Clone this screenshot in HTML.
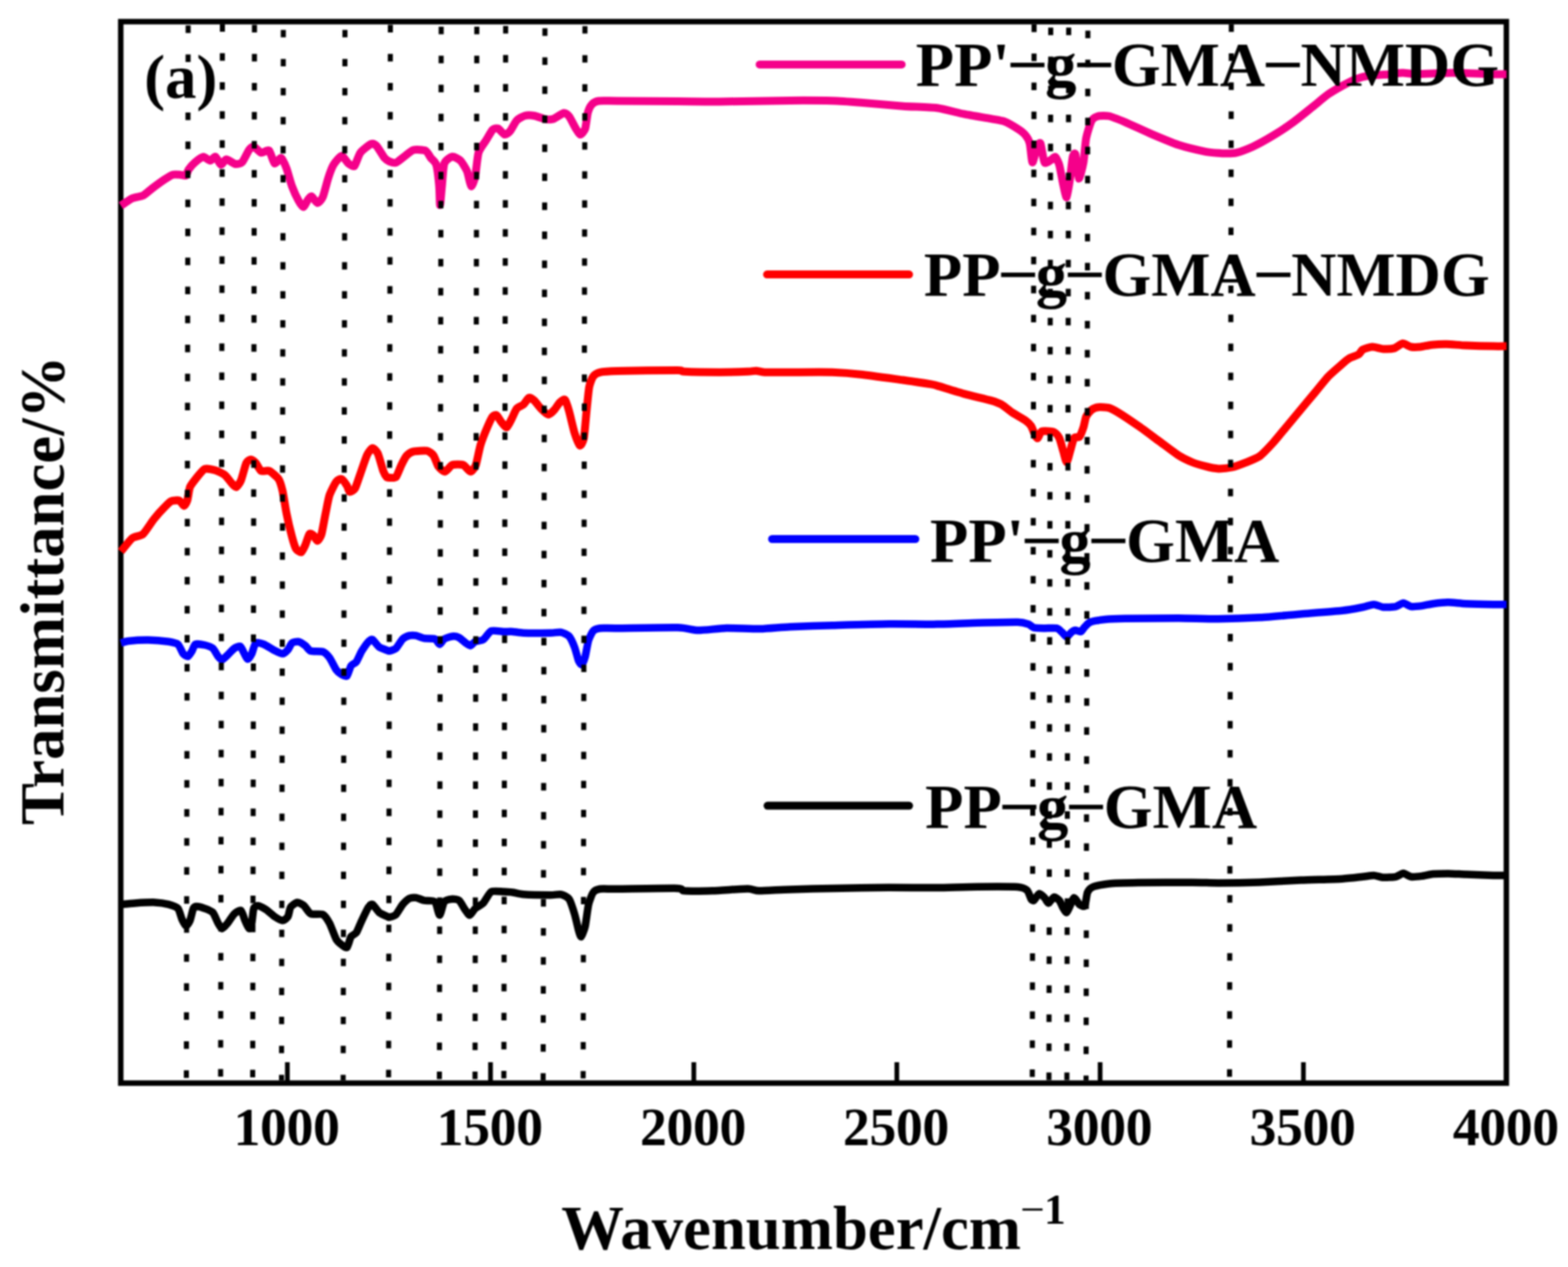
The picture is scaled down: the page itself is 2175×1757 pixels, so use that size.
<!DOCTYPE html>
<html lang="en">
<head>
<meta charset="utf-8">
<title>FTIR spectra</title>
<style>
html,body{margin:0;padding:0;background:#fff}
body{width:2175px;height:1757px;overflow:hidden}
svg{display:block;filter:blur(0.8px)}
text{font-family:"Liberation Serif",serif;font-weight:bold;fill:#000}
</style>
</head>
<body>
<svg width="2175" height="1757" viewBox="0 0 2175 1757">
<rect width="2175" height="1757" fill="#fff"/>
<rect x="167.5" y="30.0" width="1922.0" height="1472.0" fill="none" stroke="#000" stroke-width="7.6"/>
<g fill="none" stroke-linejoin="round" stroke-linecap="butt">
<path stroke="#000000" stroke-width="10.5" d="M167.7 1254.2C169.8 1254.0 182.2 1252.7 187.2 1252.4C192.3 1252.1 210.2 1251.2 215.1 1251.4C220.1 1251.6 230.4 1253.3 233.8 1254.2C237.1 1255.1 244.8 1257.6 246.8 1259.8C248.8 1262.0 251.2 1272.1 252.4 1274.7C253.6 1277.3 256.8 1283.8 258.0 1284.0C259.1 1284.2 262.4 1279.2 263.5 1276.6C264.6 1274.0 267.2 1261.9 268.2 1259.8C269.2 1257.7 271.2 1257.0 272.8 1257.0C274.5 1257.0 281.6 1258.9 284.0 1259.8C286.4 1260.7 293.2 1263.2 295.2 1265.4C297.2 1267.6 301.2 1277.9 302.6 1280.3C304.0 1282.7 306.8 1287.7 308.2 1287.7C309.6 1287.7 313.9 1282.5 315.7 1280.3C317.4 1278.1 323.0 1269.1 325.0 1267.3C327.0 1265.4 332.7 1261.6 334.3 1262.6C335.9 1263.6 338.7 1273.9 339.9 1276.6C341.0 1279.3 344.4 1287.3 345.4 1287.7C346.4 1288.1 348.5 1283.3 349.2 1280.3C349.9 1277.3 351.0 1262.4 352.0 1259.8C352.9 1257.2 356.6 1255.9 358.5 1256.1C360.4 1256.3 367.3 1260.1 369.6 1261.7C372.0 1263.3 378.4 1269.4 380.8 1271.0C383.2 1272.6 390.0 1276.6 392.0 1276.6C394.0 1276.6 398.2 1273.0 399.4 1271.0C400.6 1269.0 401.8 1260.0 403.1 1258.0C404.5 1255.9 410.5 1251.6 412.4 1251.4C414.4 1251.2 419.8 1254.4 421.8 1256.1C423.7 1257.8 428.3 1266.0 431.1 1267.3C433.8 1268.6 445.0 1266.8 447.8 1268.2C450.6 1269.6 455.1 1276.6 457.1 1280.3C459.1 1284.0 464.6 1299.5 466.4 1302.6C468.2 1305.8 472.3 1308.9 473.9 1310.1C475.5 1311.3 479.9 1315.0 481.3 1313.8C482.7 1312.6 485.5 1301.1 486.9 1298.9C488.3 1296.7 492.8 1295.7 494.3 1293.3C495.9 1290.9 500.0 1280.3 501.8 1276.6C503.6 1272.8 509.5 1260.3 511.1 1258.0C512.7 1255.6 515.1 1253.4 516.7 1254.2C518.3 1255.0 523.8 1263.6 526.0 1265.4C528.2 1267.2 535.7 1270.3 537.2 1271.0C538.7 1271.7 538.7 1272.2 540.0 1271.9C541.3 1271.6 547.3 1270.1 549.3 1268.2C551.3 1266.3 556.6 1256.6 558.6 1254.2C560.6 1251.9 565.9 1246.9 567.9 1245.9C569.9 1244.9 575.0 1244.6 577.2 1244.9C579.4 1245.2 585.6 1248.1 588.4 1248.7C591.2 1249.2 601.0 1248.3 603.3 1250.5C605.6 1252.7 608.4 1269.1 609.8 1269.1C611.2 1269.1 614.4 1252.9 616.3 1250.5C618.2 1248.1 625.3 1247.0 627.5 1246.8C629.7 1246.6 634.9 1247.1 636.8 1248.7C638.7 1250.2 643.6 1259.5 645.2 1261.7C646.8 1263.9 650.2 1269.3 651.7 1269.1C653.2 1268.9 657.1 1261.6 659.1 1259.8C661.1 1258.0 667.9 1254.9 670.3 1252.4C672.7 1249.9 678.5 1238.2 681.5 1236.6C684.4 1234.9 695.0 1236.5 698.2 1236.6C701.4 1236.7 708.3 1237.1 711.2 1237.5C714.2 1237.9 720.6 1239.9 726.1 1240.3C731.7 1240.7 757.8 1241.2 763.4 1241.2C768.9 1241.2 775.5 1239.7 778.3 1240.3C781.0 1240.9 787.4 1243.9 789.4 1246.8C791.4 1249.7 795.5 1262.7 796.9 1267.3C798.3 1271.8 801.5 1286.2 802.4 1289.6C803.4 1293.0 805.2 1299.5 806.2 1298.9C807.2 1298.3 810.7 1288.8 811.8 1284.0C812.8 1279.3 815.2 1259.2 816.4 1254.2C817.6 1249.3 821.2 1239.8 822.9 1237.5C824.6 1235.2 828.7 1233.3 832.2 1232.8C835.8 1232.3 844.9 1232.9 856.4 1232.8C867.9 1232.7 930.1 1231.6 940.0 1231.9C949.9 1232.2 943.8 1235.0 949.0 1235.3C954.1 1235.7 978.8 1235.6 988.2 1235.3C997.6 1235.0 1030.2 1232.4 1037.1 1232.4C1044.0 1232.4 1046.5 1235.2 1052.8 1235.3C1059.1 1235.4 1085.0 1233.7 1095.9 1233.4C1106.8 1233.0 1140.0 1232.3 1154.7 1232.0C1169.3 1231.7 1217.5 1230.9 1233.0 1230.8C1248.5 1230.7 1286.9 1231.1 1300.0 1231.0C1313.1 1230.8 1343.9 1229.8 1355.8 1229.7C1367.8 1229.6 1404.3 1229.5 1411.7 1230.0C1419.0 1230.6 1422.7 1232.9 1424.7 1234.7C1426.7 1236.5 1429.3 1245.3 1430.3 1246.8C1431.3 1248.3 1432.8 1249.4 1434.0 1248.7C1435.2 1247.9 1439.9 1239.7 1441.5 1239.3C1443.0 1238.9 1447.5 1243.5 1448.9 1244.9C1450.3 1246.3 1453.1 1252.5 1454.5 1252.4C1455.9 1252.3 1460.3 1244.4 1461.9 1244.0C1463.5 1243.6 1468.0 1247.0 1469.4 1248.7C1470.8 1250.3 1473.9 1258.0 1475.0 1259.8C1476.1 1261.6 1478.6 1265.8 1479.6 1265.4C1480.6 1265.0 1483.2 1258.3 1484.3 1256.1C1485.4 1253.9 1488.5 1245.1 1489.9 1244.9C1491.2 1244.7 1495.7 1253.0 1497.3 1254.2C1498.9 1255.4 1503.6 1257.9 1504.7 1256.1C1505.9 1254.3 1507.3 1240.3 1508.5 1237.5C1509.7 1234.7 1512.7 1231.3 1515.9 1230.0C1519.1 1228.7 1531.5 1226.0 1538.3 1225.4C1545.0 1224.7 1566.9 1224.3 1579.2 1224.1C1591.5 1223.9 1641.8 1223.7 1653.7 1223.7C1665.5 1223.7 1680.0 1224.4 1690.0 1224.4C1700.0 1224.4 1735.0 1223.9 1747.2 1223.5C1759.4 1223.0 1792.3 1221.1 1804.5 1220.6C1816.7 1220.1 1852.6 1219.2 1861.7 1218.7C1870.9 1218.2 1885.6 1216.3 1890.3 1215.8C1895.0 1215.3 1902.5 1213.8 1905.6 1213.9C1908.6 1214.0 1915.7 1216.6 1918.9 1216.8C1922.2 1217.0 1933.2 1216.4 1936.1 1215.8C1939.1 1215.2 1944.4 1211.1 1946.6 1211.1C1948.8 1211.1 1954.4 1215.4 1957.1 1215.8C1959.8 1216.2 1969.1 1215.3 1972.4 1214.9C1975.6 1214.5 1983.8 1212.4 1987.6 1212.0C1991.5 1211.6 2003.7 1211.4 2008.6 1211.4C2013.5 1211.5 2026.7 1212.3 2033.4 1212.6C2040.1 1212.8 2065.6 1213.8 2071.6 1213.9C2077.6 1214.1 2087.8 1213.9 2089.7 1213.9"/>
<path stroke="#0000ff" stroke-width="10.5" d="M167.7 891.7C168.8 891.4 173.8 889.3 177.9 888.9C182.0 888.5 199.9 887.5 205.8 887.6C211.8 887.7 229.4 889.2 233.8 889.8C238.1 890.5 244.6 891.8 246.8 893.5C249.0 895.3 252.7 904.8 254.2 906.6C255.7 908.4 259.5 910.7 260.7 910.3C262.0 909.9 265.2 904.6 266.3 902.8C267.4 901.1 269.1 894.4 271.0 893.5C272.9 892.6 281.4 893.9 284.0 894.5C286.6 895.1 293.2 897.4 295.2 899.1C297.2 900.8 301.2 908.6 302.6 910.3C304.0 912.0 306.8 915.1 308.2 914.9C309.6 914.7 313.9 910.1 315.7 908.4C317.4 906.7 323.1 900.4 325.0 899.1C326.9 897.8 332.0 895.7 333.3 896.3C334.7 896.9 336.9 902.8 338.0 904.7C339.1 906.6 342.4 913.8 343.6 914.0C344.8 914.2 348.0 909.0 349.2 906.6C350.4 904.2 353.0 893.1 354.7 891.7C356.5 890.3 363.3 892.5 365.9 893.5C368.5 894.5 376.2 899.6 378.9 901.0C381.7 902.4 389.8 906.6 392.0 906.6C394.2 906.6 398.0 902.6 399.4 901.0C400.8 899.4 403.4 892.9 405.0 891.7C406.6 890.5 412.3 889.4 414.3 889.8C416.3 890.2 421.8 894.0 423.6 895.4C425.4 896.8 428.5 902.0 431.1 902.8C433.6 903.7 445.0 902.8 447.8 903.8C450.6 904.8 455.1 909.5 457.1 912.2C459.1 914.8 464.6 926.4 466.4 928.9C468.2 931.4 472.3 934.5 473.9 935.4C475.5 936.3 479.9 938.6 481.3 937.3C482.7 936.0 485.5 925.4 486.9 923.3C488.3 921.2 492.8 919.9 494.3 917.7C495.9 915.6 500.0 905.8 501.8 902.8C503.6 899.9 509.5 891.5 511.1 889.8C512.7 888.1 515.1 886.2 516.7 887.0C518.3 887.8 523.8 895.7 526.0 897.3C528.2 898.9 535.7 901.3 537.2 901.9C538.7 902.5 538.7 903.1 540.0 902.8C541.3 902.6 547.3 900.9 549.3 899.1C551.3 897.3 556.6 888.0 558.6 886.1C560.6 884.2 565.9 881.9 567.9 881.4C569.9 880.9 575.0 881.0 577.2 881.4C579.4 881.8 585.6 884.7 588.4 885.2C591.2 885.7 601.0 885.2 603.3 886.1C605.6 887.0 608.4 893.5 609.8 893.5C611.2 893.5 614.4 887.3 616.3 886.1C618.2 884.9 625.3 882.6 627.5 882.4C629.7 882.2 634.8 883.2 636.8 884.2C638.8 885.2 644.4 890.5 646.1 891.7C647.8 892.9 651.2 895.6 652.6 895.4C654.0 895.2 657.2 890.7 659.1 889.8C661.0 888.9 667.9 888.6 670.3 887.0C672.7 885.4 678.5 876.1 681.5 874.9C684.4 873.7 695.0 875.8 698.2 875.9C701.4 876.0 708.3 875.7 711.2 875.9C714.2 876.1 720.6 877.5 726.1 877.7C731.7 877.9 757.8 877.8 763.4 877.7C768.9 877.6 775.5 876.3 778.3 876.8C781.0 877.3 787.4 880.2 789.4 882.4C791.4 884.6 795.5 893.7 796.9 897.3C798.3 900.8 801.4 913.3 802.4 915.9C803.5 918.5 806.1 922.1 807.1 921.5C808.1 920.9 810.8 913.9 811.8 910.3C812.7 906.7 815.2 891.7 816.4 888.0C817.6 884.2 821.2 876.7 822.9 874.9C824.6 873.1 828.7 871.6 832.2 871.2C835.8 870.8 844.9 871.3 856.4 871.2C867.9 871.1 928.0 870.0 940.0 870.3C952.0 870.6 961.3 874.0 968.6 874.1C975.8 874.2 998.5 871.3 1007.7 871.1C1016.9 870.9 1045.4 872.3 1054.8 872.1C1064.2 871.9 1085.2 869.7 1095.9 869.2C1106.6 868.7 1140.0 867.6 1154.7 867.2C1169.3 866.8 1217.5 865.4 1233.0 865.3C1248.5 865.1 1286.9 865.8 1300.0 865.6C1313.1 865.5 1343.9 864.1 1355.8 863.8C1367.8 863.5 1404.1 862.6 1411.7 862.8C1419.2 863.0 1424.2 864.8 1426.6 865.6C1429.0 866.4 1431.6 869.7 1434.0 870.3C1436.4 870.9 1445.5 871.1 1448.9 871.2C1452.3 871.3 1463.1 870.6 1465.7 871.2C1468.2 871.8 1471.6 875.5 1473.1 876.8C1474.6 878.1 1478.2 883.3 1479.6 883.3C1481.0 883.3 1484.8 877.8 1486.1 876.8C1487.4 875.8 1490.3 874.1 1491.7 874.0C1493.1 873.9 1497.8 876.4 1499.2 875.9C1500.6 875.4 1503.4 870.7 1504.7 869.3C1506.1 868.0 1509.2 863.9 1512.2 862.8C1515.2 861.7 1527.5 859.6 1532.7 859.1C1537.8 858.6 1549.7 858.0 1560.6 857.8C1571.5 857.6 1621.2 857.2 1635.0 857.2C1648.8 857.3 1678.0 858.3 1690.0 858.2C1702.0 858.1 1735.0 857.0 1747.2 856.3C1759.4 855.6 1792.3 852.6 1804.5 851.5C1816.7 850.5 1852.6 847.8 1861.7 846.8C1870.9 845.8 1885.6 842.9 1890.3 842.0C1895.0 841.1 1902.5 838.2 1905.6 838.2C1908.6 838.2 1915.7 841.7 1918.9 842.0C1922.2 842.3 1933.2 841.7 1936.1 841.1C1939.1 840.4 1944.4 836.3 1946.6 836.3C1948.8 836.3 1954.4 840.6 1957.1 841.1C1959.8 841.5 1969.1 840.5 1972.4 840.1C1975.6 839.7 1983.8 837.7 1987.6 837.2C1991.5 836.7 2003.7 835.3 2008.6 835.3C2013.5 835.3 2026.7 836.9 2033.4 837.2C2040.1 837.5 2065.6 838.1 2071.6 838.2C2077.6 838.3 2087.8 838.2 2089.7 838.2"/>
<path stroke="#ff0000" stroke-width="11" d="M167.7 764.8C169.4 762.8 180.2 748.8 183.5 746.2C186.8 743.6 195.2 743.4 198.4 740.6C201.6 737.8 210.1 724.1 213.3 720.1C216.5 716.1 225.6 706.0 228.2 703.4C230.8 700.7 235.3 696.0 237.5 695.0C239.7 694.0 246.8 693.4 248.7 694.1C250.5 694.7 254.0 701.5 255.2 701.5C256.4 701.5 258.9 696.8 259.8 694.1C260.7 691.3 262.2 678.8 263.5 675.4C264.9 672.1 270.7 665.1 272.8 662.4C275.0 659.7 281.2 651.4 284.0 650.3C286.8 649.2 295.9 651.3 298.9 652.2C301.9 653.1 309.6 656.8 311.9 658.7C314.3 660.6 319.6 668.1 321.2 669.9C322.9 671.6 326.4 675.8 327.8 675.4C329.1 675.0 332.8 669.7 334.3 666.1C335.8 662.6 340.2 645.0 341.7 641.9C343.2 638.9 346.8 637.3 348.2 637.3C349.6 637.3 353.3 640.2 354.7 641.9C356.2 643.6 360.2 651.9 362.2 653.1C364.2 654.3 370.8 651.9 373.4 653.1C375.9 654.3 384.4 661.3 386.4 664.3C388.4 667.2 390.8 675.9 392.0 681.0C393.2 686.2 396.2 705.9 397.6 712.7C398.9 719.4 403.6 739.1 405.0 744.3C406.4 749.5 409.2 758.8 410.6 761.1C412.0 763.3 416.6 766.3 418.0 765.7C419.4 765.1 422.4 758.2 423.6 755.5C424.8 752.8 428.0 742.0 429.2 740.6C430.4 739.2 433.6 741.5 434.8 742.4C436.0 743.4 439.2 750.1 440.4 749.9C441.6 749.7 444.8 744.6 446.0 740.6C447.1 736.6 450.3 718.4 451.5 712.7C452.7 706.9 455.5 691.4 457.1 686.6C458.7 681.8 464.6 670.4 466.4 668.0C468.2 665.6 472.3 663.7 473.9 664.3C475.5 664.9 480.1 671.7 481.3 673.6C482.5 675.5 483.8 681.6 485.0 682.0C486.2 682.4 490.9 680.0 492.5 677.3C494.1 674.6 498.1 661.8 499.9 656.8C501.7 651.9 507.4 634.5 509.2 630.8C511.0 627.0 515.1 621.7 516.7 621.5C518.3 621.3 522.5 625.5 524.1 628.9C525.7 632.3 530.3 649.6 531.6 653.1C532.9 656.6 535.4 660.5 536.3 661.5C537.2 662.5 538.6 662.4 540.0 662.4C541.4 662.4 547.5 663.4 549.3 661.5C551.1 659.6 555.2 647.9 556.8 644.7C558.3 641.6 562.4 633.7 564.2 631.7C566.0 629.7 570.5 626.8 573.5 626.1C576.5 625.4 589.1 624.6 592.1 625.2C595.1 625.8 599.7 629.4 601.4 631.7C603.1 634.0 606.3 644.2 607.9 646.6C609.6 649.0 615.2 654.3 617.2 654.1C619.3 653.9 624.8 645.7 627.5 644.7C630.2 643.8 639.7 643.8 642.4 644.7C645.1 645.7 650.7 654.1 652.6 654.1C654.5 654.1 658.6 648.7 660.1 644.7C661.5 640.8 664.9 622.4 666.6 616.8C668.3 611.3 674.1 596.8 675.9 592.6C677.7 588.5 681.9 579.5 683.3 577.7C684.7 576.0 687.6 575.1 688.9 575.9C690.2 576.7 693.9 583.4 695.4 585.2C696.9 587.0 701.4 593.0 702.9 592.6C704.4 592.2 707.9 584.2 709.4 581.5C710.9 578.7 715.0 568.8 716.8 566.6C718.6 564.4 724.3 562.6 726.1 561.0C727.9 559.4 732.0 552.3 733.6 551.7C735.2 551.1 739.2 553.8 741.0 555.4C742.8 557.0 748.2 564.5 750.3 566.6C752.4 568.7 758.6 574.7 760.6 574.9C762.6 575.1 767.3 570.2 768.9 568.4C770.6 566.6 774.8 559.7 776.4 558.2C778.0 556.7 782.4 553.2 783.8 554.5C785.2 555.8 788.0 565.4 789.4 570.3C790.8 575.2 795.3 595.0 796.9 600.1C798.5 605.1 802.9 617.0 804.3 617.8C805.7 618.6 808.9 612.6 809.9 607.5C810.9 602.5 812.8 577.8 813.6 570.3C814.4 562.7 816.3 542.0 817.3 536.8C818.3 531.6 821.3 524.1 822.9 521.9C824.5 519.7 828.7 517.1 832.2 516.3C835.8 515.5 844.9 514.8 856.4 514.5C867.9 514.2 930.1 513.4 940.0 513.5C949.9 513.6 942.8 515.0 949.0 515.3C955.2 515.6 988.5 516.2 997.9 516.2C1007.4 516.2 1031.7 515.5 1037.1 515.3C1042.6 515.1 1046.4 514.2 1048.9 514.3C1051.4 514.4 1055.6 516.0 1060.6 516.2C1065.6 516.4 1085.9 516.2 1095.9 516.2C1105.9 516.2 1144.2 515.9 1154.7 516.2C1165.1 516.6 1183.4 518.0 1193.8 519.2C1204.3 520.3 1242.2 525.6 1252.6 527.0C1263.1 528.5 1286.7 532.0 1291.8 532.9C1296.8 533.7 1295.2 533.5 1300.0 534.9C1304.8 536.3 1329.3 543.9 1337.2 546.1C1345.2 548.3 1368.9 553.8 1374.5 555.4C1380.0 557.0 1386.2 559.2 1389.3 561.0C1392.5 562.8 1400.7 569.8 1404.2 572.2C1407.8 574.5 1420.1 581.3 1422.8 583.3C1425.6 585.3 1428.9 588.6 1430.3 590.8C1431.7 593.0 1434.9 602.0 1435.9 603.8C1436.9 605.6 1438.6 608.1 1439.6 607.5C1440.6 606.9 1442.8 599.1 1445.2 598.2C1447.6 597.3 1459.4 598.2 1461.9 599.1C1464.5 600.1 1468.0 604.6 1469.4 607.5C1470.8 610.4 1473.9 622.6 1475.0 626.1C1476.1 629.7 1478.6 641.0 1479.6 641.0C1480.6 641.0 1483.2 629.7 1484.3 626.1C1485.4 622.6 1488.5 609.7 1489.9 607.5C1491.2 605.3 1495.9 607.2 1497.3 605.7C1498.7 604.1 1501.9 595.6 1502.9 592.6C1503.9 589.7 1505.4 580.3 1506.6 577.7C1507.8 575.2 1512.3 569.8 1514.1 568.4C1515.8 567.0 1520.8 565.0 1523.4 564.7C1525.9 564.4 1535.3 564.8 1538.3 565.6C1541.2 566.4 1546.9 569.5 1551.3 572.2C1555.6 574.8 1573.2 586.6 1579.2 590.8C1585.2 594.9 1601.2 606.9 1607.1 611.2C1613.1 615.6 1630.1 628.5 1635.0 631.7C1640.0 634.9 1649.7 639.4 1653.7 641.0C1657.6 642.6 1668.4 645.7 1672.3 646.6C1676.1 647.6 1686.1 649.7 1690.0 649.9C1693.9 650.0 1705.0 648.9 1709.1 648.0C1713.1 647.0 1724.1 642.9 1728.2 641.3C1732.2 639.7 1743.2 635.6 1747.2 632.7C1751.3 629.7 1762.2 618.1 1766.3 613.6C1770.4 609.1 1781.3 595.6 1785.4 590.7C1789.5 585.8 1800.4 572.7 1804.5 567.8C1808.5 562.9 1819.5 549.8 1823.6 544.9C1827.6 540.0 1838.6 526.3 1842.6 522.0C1846.7 517.8 1858.7 507.5 1861.7 504.9C1864.8 502.2 1868.8 498.7 1871.2 497.2C1873.7 495.8 1882.6 492.8 1884.6 491.5C1886.6 490.2 1888.3 486.0 1890.3 484.8C1892.4 483.7 1900.6 481.1 1903.7 481.0C1906.7 480.9 1915.7 483.7 1918.9 483.9C1922.2 484.1 1931.4 483.7 1934.2 482.9C1937.1 482.1 1943.2 476.5 1945.7 476.2C1948.1 476.0 1954.5 480.5 1957.1 481.0C1959.7 481.5 1967.4 481.3 1970.5 481.0C1973.5 480.7 1981.9 478.6 1985.7 478.2C1989.6 477.8 2001.6 477.1 2006.7 477.2C2011.8 477.3 2026.5 478.8 2033.4 479.1C2040.3 479.4 2065.6 480.0 2071.6 480.1C2077.6 480.2 2087.8 480.1 2089.7 480.1"/>
<path stroke="#f5008a" stroke-width="11" d="M167.7 285.2C169.4 284.1 180.2 276.5 183.5 275.0C186.8 273.5 195.4 272.7 198.4 271.2C201.4 269.8 208.2 263.4 211.4 261.0C214.6 258.6 225.2 250.9 228.2 248.9C231.2 246.9 237.0 243.1 239.3 242.4C241.7 241.7 248.5 242.3 250.5 242.4C252.5 242.5 256.8 244.1 258.0 243.3C259.1 242.5 260.3 236.9 261.7 234.9C263.1 233.0 268.8 226.6 271.0 224.7C273.2 222.9 280.0 217.8 282.2 217.6C284.3 217.4 289.7 222.9 291.5 222.8C293.2 222.8 297.3 216.7 298.9 217.3C300.5 217.9 304.8 228.0 306.4 228.4C307.9 228.8 311.6 221.1 313.8 221.0C316.0 220.9 324.4 227.1 326.8 227.5C329.2 227.9 334.1 226.8 336.1 224.7C338.1 222.6 343.8 210.2 345.4 208.0C347.1 205.7 350.2 202.9 352.0 203.3C353.7 203.7 359.9 211.1 362.2 211.7C364.5 212.3 371.4 207.3 373.4 208.9C375.3 210.5 379.0 225.5 380.8 226.6C382.6 227.7 388.3 218.3 390.1 219.1C391.9 219.9 396.0 229.8 397.6 234.0C399.1 238.2 403.2 253.4 405.0 258.2C406.8 263.0 412.6 275.6 414.3 278.7C416.0 281.8 419.4 287.3 420.8 287.1C422.2 286.9 426.1 278.4 427.3 276.8C428.5 275.2 430.6 271.7 432.0 272.2C433.4 272.7 438.7 281.4 440.4 281.5C442.1 281.6 446.2 276.8 447.8 273.1C449.4 269.4 453.7 251.8 455.3 247.0C456.8 242.3 460.7 231.7 462.7 228.4C464.7 225.2 471.7 216.5 473.9 216.3C476.1 216.1 481.3 225.1 483.2 226.6C485.1 228.1 489.8 231.9 491.6 230.3C493.3 228.7 497.4 215.0 499.9 211.7C502.4 208.4 512.4 200.6 514.8 199.6C517.2 198.6 520.3 200.3 522.3 202.4C524.3 204.5 531.5 216.8 533.4 219.1C535.3 221.4 538.3 223.1 540.0 223.8C541.7 224.5 547.1 226.3 549.3 225.6C551.5 224.9 557.9 219.1 560.5 217.3C563.1 215.4 570.3 208.9 573.5 208.0C576.7 207.1 587.7 207.7 590.3 208.9C592.8 210.1 596.1 217.0 597.7 219.1C599.3 221.2 603.9 224.3 605.1 228.4C606.4 232.6 608.7 252.3 609.2 258.2C609.8 264.2 610.0 284.3 610.4 284.3C610.8 284.3 612.3 264.4 613.0 258.2C613.6 252.1 614.8 230.9 616.3 226.6C617.9 222.2 625.1 217.7 627.5 217.3C629.9 216.9 636.5 220.7 638.7 222.8C640.8 225.0 646.4 234.0 648.0 237.7C649.5 241.5 652.3 257.4 653.5 258.2C654.7 259.0 658.0 250.1 659.1 245.2C660.2 240.2 662.2 217.0 663.8 211.7C665.4 206.3 671.9 198.3 674.0 194.9C676.1 191.6 681.5 181.8 683.3 180.0C685.1 178.3 689.0 177.5 690.8 178.2C692.6 178.9 698.3 186.2 700.1 186.6C701.9 186.9 705.7 184.0 707.5 181.9C709.3 179.8 714.6 169.3 716.8 167.0C719.0 164.7 725.4 161.2 728.0 160.5C730.6 159.8 738.0 160.0 741.0 160.5C744.0 161.0 753.1 164.7 755.9 165.1C758.7 165.6 764.3 166.0 767.1 165.1C769.9 164.3 779.6 157.2 782.0 156.8C784.4 156.4 787.6 159.1 789.4 161.4C791.2 163.7 797.0 175.5 798.7 178.2C800.4 180.9 803.8 186.6 805.2 186.6C806.6 186.6 810.7 181.5 811.8 178.2C812.8 174.9 814.5 159.4 815.5 155.8C816.5 152.3 819.5 146.4 821.1 144.7C822.6 143.0 826.6 140.5 830.4 140.0C834.1 139.5 844.7 140.0 856.4 140.0C868.1 140.1 924.9 140.5 940.0 140.6C955.1 140.7 981.3 141.1 997.9 141.0C1014.6 140.8 1079.2 139.5 1095.9 139.4C1112.6 139.3 1144.2 139.5 1154.7 139.8C1165.1 140.1 1183.4 141.5 1193.8 142.3C1204.3 143.1 1241.3 146.4 1252.6 147.2C1263.9 148.0 1291.0 148.6 1300.0 149.8C1309.0 151.0 1329.3 156.6 1337.2 158.2C1345.2 159.8 1368.5 163.6 1374.5 164.7C1380.4 165.8 1389.1 166.9 1393.1 168.4C1397.0 169.9 1408.5 176.6 1411.7 178.7C1414.9 180.7 1421.1 185.8 1422.8 188.0C1424.6 190.1 1427.4 195.2 1428.4 199.1C1429.4 203.1 1431.1 224.8 1432.2 225.2C1433.2 225.6 1437.5 205.6 1438.7 202.8C1439.9 200.1 1442.2 196.7 1443.3 199.1C1444.4 201.5 1447.3 222.8 1448.9 225.2C1450.5 227.6 1456.6 222.3 1458.2 221.5C1459.8 220.7 1462.6 216.9 1463.8 217.7C1465.0 218.5 1468.2 224.7 1469.4 228.9C1470.6 233.1 1473.9 252.1 1475.0 256.8C1476.1 261.6 1478.6 274.6 1479.6 273.6C1480.6 272.6 1483.4 253.5 1484.3 247.5C1485.2 241.6 1487.2 221.3 1488.0 217.7C1488.8 214.2 1490.8 210.8 1491.7 214.0C1492.6 217.2 1495.2 246.3 1496.4 247.5C1497.6 248.7 1501.8 231.1 1502.9 225.2C1504.0 219.2 1505.4 197.8 1506.6 191.7C1507.8 185.5 1512.3 170.8 1514.1 167.5C1515.8 164.2 1520.8 161.7 1523.4 161.0C1525.9 160.3 1534.3 160.1 1538.3 161.0C1542.2 161.9 1554.2 166.7 1560.6 169.3C1566.9 172.0 1589.9 182.7 1597.8 186.1C1605.8 189.5 1627.1 198.4 1635.0 201.0C1643.0 203.6 1666.4 209.1 1672.3 210.3C1678.1 211.5 1686.9 212.0 1690.0 212.2C1693.1 212.5 1698.8 212.9 1701.4 212.8C1704.1 212.8 1710.9 212.9 1714.8 211.9C1718.7 210.9 1732.2 206.0 1737.7 203.5C1743.2 200.9 1760.2 191.5 1766.3 187.8C1772.4 184.1 1788.8 173.2 1794.9 168.7C1801.0 164.3 1818.5 149.9 1823.6 145.9C1828.6 141.8 1838.6 133.4 1842.6 130.6C1846.7 127.7 1857.6 121.4 1861.7 119.1C1865.8 116.9 1876.7 111.1 1880.8 109.6C1884.9 108.1 1894.8 105.5 1899.9 104.8C1905.0 104.1 1923.6 103.3 1928.5 102.9C1933.4 102.5 1941.6 101.0 1945.7 101.0C1949.7 101.0 1959.3 102.9 1966.6 102.9C1974.0 102.9 2003.1 101.0 2014.3 101.0C2025.5 101.0 2063.5 102.7 2071.6 102.9C2079.6 103.1 2087.8 102.9 2089.7 102.9"/>
</g>
<g stroke-linecap="round" stroke-width="8">
<line x1="1053.7" y1="89.4" x2="1250.7" y2="89.4" stroke="#f5008a" stroke-width="11"/>
<line x1="1064.0" y1="380.6" x2="1261.0" y2="380.6" stroke="#ff0000" stroke-width="11"/>
<line x1="1071.0" y1="747.5" x2="1269.7" y2="747.5" stroke="#0000ff" stroke-width="11"/>
<line x1="1064.7" y1="1117.3" x2="1261.0" y2="1117.3" stroke="#000000" stroke-width="11"/>
</g>
<g stroke="#000" stroke-width="7" stroke-dasharray="10.4 29.85">
<line x1="261.0" y1="35.3" x2="258.5" y2="1498.0"/>
<line x1="308.5" y1="33.6" x2="306.0" y2="1498.0"/>
<line x1="353.0" y1="34.6" x2="350.5" y2="1498.0"/>
<line x1="393.0" y1="41.4" x2="390.5" y2="1498.0"/>
<line x1="478.5" y1="41.4" x2="476.0" y2="1498.0"/>
<line x1="541.5" y1="34.6" x2="539.0" y2="1498.0"/>
<line x1="612.0" y1="37.0" x2="609.5" y2="1498.0"/>
<line x1="661.4" y1="37.0" x2="658.9" y2="1498.0"/>
<line x1="701.4" y1="36.0" x2="698.9" y2="1498.0"/>
<line x1="755.9" y1="39.3" x2="753.4" y2="1498.0"/>
<line x1="811.4" y1="36.2" x2="808.9" y2="1498.0"/>
<line x1="1434.4" y1="34.1" x2="1431.9" y2="1498.0"/>
<line x1="1457.5" y1="38.3" x2="1455.0" y2="1498.0"/>
<line x1="1482.4" y1="38.3" x2="1479.9" y2="1498.0"/>
<line x1="1509.0" y1="42.6" x2="1506.5" y2="1498.0"/>
<line x1="1708.0" y1="33.8" x2="1705.5" y2="1498.0"/>
</g>
<g font-size="87">
<text x="1270.3" y="118.7">PP&#39;<tspan dx="-4.5" textLength="57.9" lengthAdjust="spacingAndGlyphs">−</tspan><tspan dx="-4.4">g</tspan><tspan dx="-4.5" textLength="57.9" lengthAdjust="spacingAndGlyphs">−</tspan><tspan dx="-4.4">GMA</tspan><tspan dx="-4.5" textLength="57.9" lengthAdjust="spacingAndGlyphs">−</tspan><tspan dx="-4.4">NMDG</tspan></text>
<text x="1281.5" y="409.7">PP<tspan dx="-4.5" textLength="57.9" lengthAdjust="spacingAndGlyphs">−</tspan><tspan dx="-4.4">g</tspan><tspan dx="-4.5" textLength="57.9" lengthAdjust="spacingAndGlyphs">−</tspan><tspan dx="-4.4">GMA</tspan><tspan dx="-4.5" textLength="57.9" lengthAdjust="spacingAndGlyphs">−</tspan><tspan dx="-4.4">NMDG</tspan></text>
<text x="1290.0" y="778.5">PP&#39;<tspan dx="-4.5" textLength="57.9" lengthAdjust="spacingAndGlyphs">−</tspan><tspan dx="-4.4">g</tspan><tspan dx="-4.5" textLength="57.9" lengthAdjust="spacingAndGlyphs">−</tspan><tspan dx="-4.4">GMA</tspan></text>
<text x="1283.3" y="1147.5">PP<tspan dx="-4.5" textLength="57.9" lengthAdjust="spacingAndGlyphs">−</tspan><tspan dx="-4.4">g</tspan><tspan dx="-4.5" textLength="57.9" lengthAdjust="spacingAndGlyphs">−</tspan><tspan dx="-4.4">GMA</tspan></text>
<text x="200" y="136">(a)</text>
<text x="778.4" y="1732.2">Wavenumber/cm<tspan font-size="60" font-weight="normal" dx="-1" dy="-35">−</tspan><tspan font-size="60" dx="-1">1</tspan></text>
<text transform="translate(87.6 1144) rotate(-90)">Transmittance/%</text>
</g>
<g font-size="74.5" text-anchor="middle" letter-spacing="-0.5">
<text x="397.4" y="1587.8">1000</text>
<text x="679.2" y="1587.8">1500</text>
<text x="961.2" y="1587.8">2000</text>
<text x="1242.8" y="1587.8">2500</text>
<text x="1524.8" y="1587.8">3000</text>
<text x="1806.8" y="1587.8">3500</text>
<text x="2088.8" y="1587.8">4000</text>
</g>
<g stroke="#000" stroke-width="6.5">
<line x1="398.6" y1="1473" x2="398.6" y2="1500"/>
<line x1="680.4" y1="1473" x2="680.4" y2="1500"/>
<line x1="962.4" y1="1473" x2="962.4" y2="1500"/>
<line x1="1244.0" y1="1473" x2="1244.0" y2="1500"/>
<line x1="1526.0" y1="1473" x2="1526.0" y2="1500"/>
<line x1="1808.0" y1="1473" x2="1808.0" y2="1500"/>
</g>
</svg>
</body>
</html>
